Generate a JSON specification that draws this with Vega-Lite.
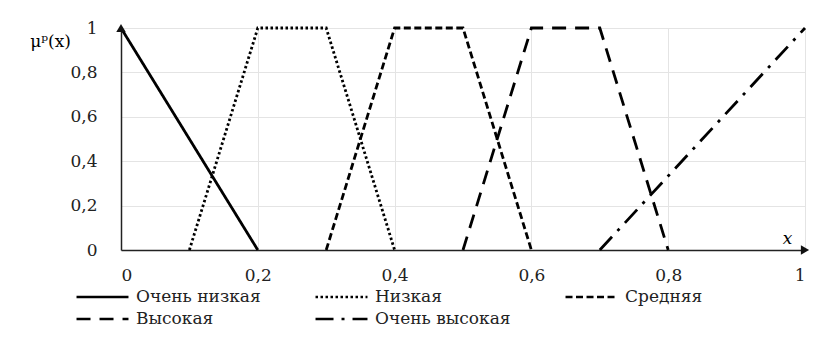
{
  "$schema": "https://vega.github.io/schema/vega-lite/v6.json",
  "width": 684,
  "height": 222,
  "autosize": {"type": "none"},
  "padding": {"left": 121, "top": 28, "right": 17, "bottom": 92},
  "background": "white",
  "config": {
    "font": "DejaVu Serif",
    "view": {"stroke": null}
  },
  "datasets": {
    "lines": [
      {"set": "Очень низкая", "x": 0, "mu": 1},
      {"set": "Очень низкая", "x": 0.2, "mu": 0},
      {"set": "Низкая", "x": 0.1, "mu": 0},
      {"set": "Низкая", "x": 0.2, "mu": 1},
      {"set": "Низкая", "x": 0.3, "mu": 1},
      {"set": "Низкая", "x": 0.4, "mu": 0},
      {"set": "Средняя", "x": 0.3, "mu": 0},
      {"set": "Средняя", "x": 0.4, "mu": 1},
      {"set": "Средняя", "x": 0.5, "mu": 1},
      {"set": "Средняя", "x": 0.6, "mu": 0},
      {"set": "Высокая", "x": 0.5, "mu": 0},
      {"set": "Высокая", "x": 0.6, "mu": 1},
      {"set": "Высокая", "x": 0.7, "mu": 1},
      {"set": "Высокая", "x": 0.8, "mu": 0},
      {"set": "Очень высокая", "x": 0.7, "mu": 0},
      {"set": "Очень высокая", "x": 1, "mu": 1}
    ],
    "arrows": [
      {"x": 0, "mu": 1, "shape": "triangle-up"},
      {"x": 1, "mu": 0, "shape": "triangle-right"}
    ]
  },
  "layer": [
    {
      "data": {"name": "lines"},
      "mark": {"type": "line", "color": "black", "strokeWidth": 2.8},
      "encoding": {
        "x": {
          "field": "x", "type": "quantitative",
          "scale": {"domain": [0, 1], "nice": false},
          "axis": {
            "values": [0, 0.2, 0.4, 0.6, 0.8, 1],
            "labelExpr": "replace(format(datum.value, '~g'), '.', ',')",
            "labelFont": "DejaVu Serif",
            "labelFontSize": 17, "labelColor": "#222", "labelPadding": 17,
            "ticks": false, "domainColor": "#222", "domainWidth": 1.5,
            "gridColor": "#e4e4e4", "gridWidth": 1,
            "title": "x", "titleFont": "DejaVu Serif", "titleFontStyle": "italic", "titleFontWeight": "normal",
            "titleFontSize": 17, "titleX": 666, "titleY": -12, "titleAlign": "center", "titleBaseline": "middle"
          }
        },
        "y": {
          "field": "mu", "type": "quantitative",
          "scale": {"domain": [0, 1], "nice": false},
          "axis": {
            "values": [0, 0.2, 0.4, 0.6, 0.8, 1],
            "labelExpr": "replace(format(datum.value, '~g'), '.', ',')",
            "labelFont": "DejaVu Serif",
            "labelFontSize": 17, "labelColor": "#222", "labelPadding": 24,
            "ticks": false, "domainColor": "#222", "domainWidth": 1.5,
            "gridColor": "#e4e4e4", "gridWidth": 1,
            "title": "μᵖ(x)", "titleFont": "DejaVu Serif", "titleAngle": 0, "titleFontWeight": "normal", "titleFontSize": 17,
            "titleX": -71, "titleY": 13, "titleAlign": "center", "titleBaseline": "middle"
          }
        },
        "detail": {"field": "set"},
        "strokeDash": {
          "field": "set", "type": "nominal",
          "sort": ["Очень низкая", "Низкая", "Средняя", "Высокая", "Очень высокая"],
          "scale": {
            "domain": ["Очень низкая", "Низкая", "Средняя", "Высокая", "Очень высокая"],
            "range": [[1, 0], [2.5, 2.5], [7, 3.5], [14, 9], [18, 8, 3, 8]]
          },
          "legend": {
            "title": null,
            "orient": "none",
            "legendX": -46,
            "legendY": 259,
            "direction": "horizontal",
            "columns": 3,
            "columnPadding": 53,
            "rowPadding": 2,
            "symbolType": "stroke",
            "symbolSize": 2700,
            "clipHeight": 20,
            "symbolStrokeWidth": 2.6,
            "symbolStrokeColor": "black",
            "labelFont": "DejaVu Serif",
            "labelFontSize": 17,
            "labelOffset": 6,
            "labelColor": "#222",
            "labelLimit": 300
          }
        }
      }
    },
    {
      "data": {"name": "arrows"},
      "mark": {"type": "point", "filled": true, "color": "#111", "size": 90, "opacity": 1},
      "encoding": {
        "x": {"field": "x", "type": "quantitative"},
        "y": {"field": "mu", "type": "quantitative"},
        "shape": {"field": "shape", "type": "nominal", "scale": null, "legend": null}
      }
    }
  ]
}
